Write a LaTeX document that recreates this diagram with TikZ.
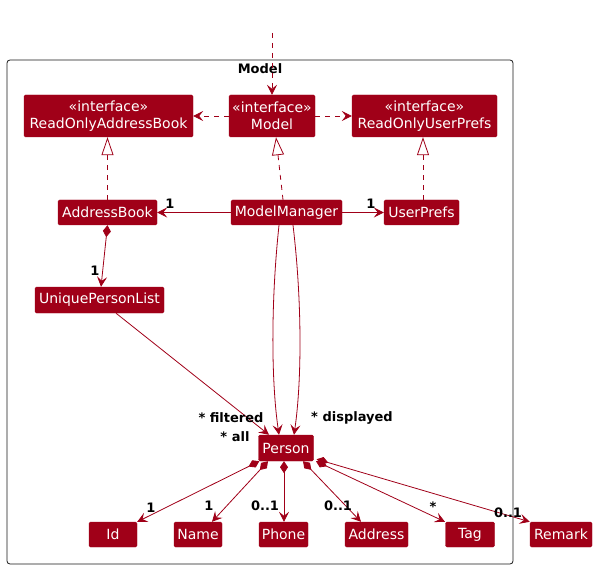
\documentclass[tikz,border=0pt]{standalone}
\usepackage{fontspec}
\setmainfont{DejaVu Sans}
\usetikzlibrary{arrows.meta}
\definecolor{pr}{HTML}{A00018}
\definecolor{pk}{HTML}{181818}
\begin{document}
\begin{tikzpicture}[x=1pt,y=-1pt,
  cls/.style={rectangle, rounded corners=1.5pt, fill=pr, draw=pr, text=white,
    font=\fontsize{14}{17}\selectfont, inner sep=0pt, minimum height=25pt, align=center},
  iface/.style={cls, minimum height=42pt},
  lnk/.style={draw=pr, line width=0.8pt},
  dsh/.style={lnk, dash pattern=on 5pt off 5pt},
  arr/.style={-{Stealth[length=10pt,width=10pt,inset=4pt]}},
  real/.style={-{Triangle[open,length=18pt,width=12pt,fill=white]}},
  comp/.style={{Diamond[length=12pt,width=8pt]}-{Stealth[length=10pt,width=10pt,inset=4pt]}},
  lab/.style={font=\bfseries\fontsize{13}{15}\selectfont, text=black, inner sep=0pt}
]
\useasboundingbox (0,0) rectangle (599,569);
% package
\node[draw=pk, line width=0.8pt, rounded corners=3pt, minimum width=506pt, minimum height=504pt, inner sep=0pt] (pkg) at (260,312) {};
\node[lab] (pkgtitle) at (260,69) {Model};

% interfaces
\node[iface, minimum width=169pt] (roab) at (108.5,116) {«interface»\\ReadOnlyAddressBook};
\node[iface, minimum width=86pt] (model) at (272,116) {«interface»\\Model};
\node[iface, minimum width=145pt] (roup) at (424.5,116) {«interface»\\ReadOnlyUserPrefs};

% classes
\node[cls, minimum width=99pt] (ab) at (107.5,212.5) {AddressBook};
\node[cls, minimum width=111pt] (mm) at (286.5,212.5) {ModelManager};
\node[cls, minimum width=75pt] (up) at (421.5,212.5) {UserPrefs};
\node[cls, minimum width=129pt, minimum height=26pt] (upl) at (99.5,300) {UniquePersonList};
\node[cls, minimum width=55pt, minimum height=26pt] (person) at (286,448) {Person};
\node[cls, minimum width=48pt] (id) at (113,534.5) {Id};
\node[cls, minimum width=48pt] (name) at (198,534.5) {Name};
\node[cls, minimum width=49pt] (phone) at (283.5,534.5) {Phone};
\node[cls, minimum width=63pt] (address) at (376.5,534.5) {Address};
\node[cls, minimum width=49pt] (tag) at (470,534.5) {Tag};
\node[cls, minimum width=62pt] (remark) at (561,534.5) {Remark};

\coordinate (ext) at (272,33);

% dashed dependencies
\draw[dsh, arr] (ext) -- (model.north);
\draw[dsh, arr] (model.west) -- (roab.east);
\draw[dsh, arr] (model.east) -- (roup.west);

% realizations
\draw[dsh, real] (ab.north) -- (roab.south -| ab.north);
\draw[dsh, real] (mm.north -| 283,0) -- (model.south -| 276,0);
\draw[dsh, real] (up.north -| 423,0) -- (roup.south -| 423,0);

% associations
\draw[lnk, arr] (mm.west) -- (ab.east);
\node[lab] (l1) at (170,204) {1};
\draw[lnk, arr] (mm.east) -- (up.west);
\node[lab] (l2) at (371,204) {1};

\draw[lnk, comp] (ab.south) -- (upl.north -| 101,0);
\node[lab] (l3) at (95,271) {1};

\draw[lnk, arr] (upl.south -| 116,0) -- (person.north -| 269,0);
\draw[lnk, arr] (mm.south -| 279,0) .. controls (271,300) and (271,380) .. (person.north -| 279,0);
\draw[lnk, arr] (mm.south -| 293,0) .. controls (302,300) and (302,380) .. (person.north -| 294,0);
\node[lab] (lf) at (231,418) {* filtered};
\node[lab] (ld) at (352,418) {* displayed};
\node[lab] (la) at (235,437) {* all};

% compositions
\draw[lnk, comp] (person.south west) ++(1,0) -- (id.north east);
\draw[lnk, comp] (person.south -| 268,0) -- (name.north -| 212,0);
\draw[lnk, comp] (person.south -| 284,0) -- (phone.north -| 284,0);
\draw[lnk, comp] (person.south -| 303,0) -- (address.north -| 361,0);
\draw[lnk, comp] (person.south -| 316,0) -- (tag.north -| 445,0);
\draw[lnk, comp] (person.south east) ++(3,-2) -- (remark.north west);
\node[lab] (c1) at (151,508) {1};
\node[lab] (c2) at (209,506) {1};
\node[lab] (c3) at (265,506) {0..1};
\node[lab] (c4) at (338,506) {0..1};
\node[lab] (c5) at (433,507) {*};
\node[lab] (c6) at (508,513) {0..1};
\end{tikzpicture}
\end{document}
